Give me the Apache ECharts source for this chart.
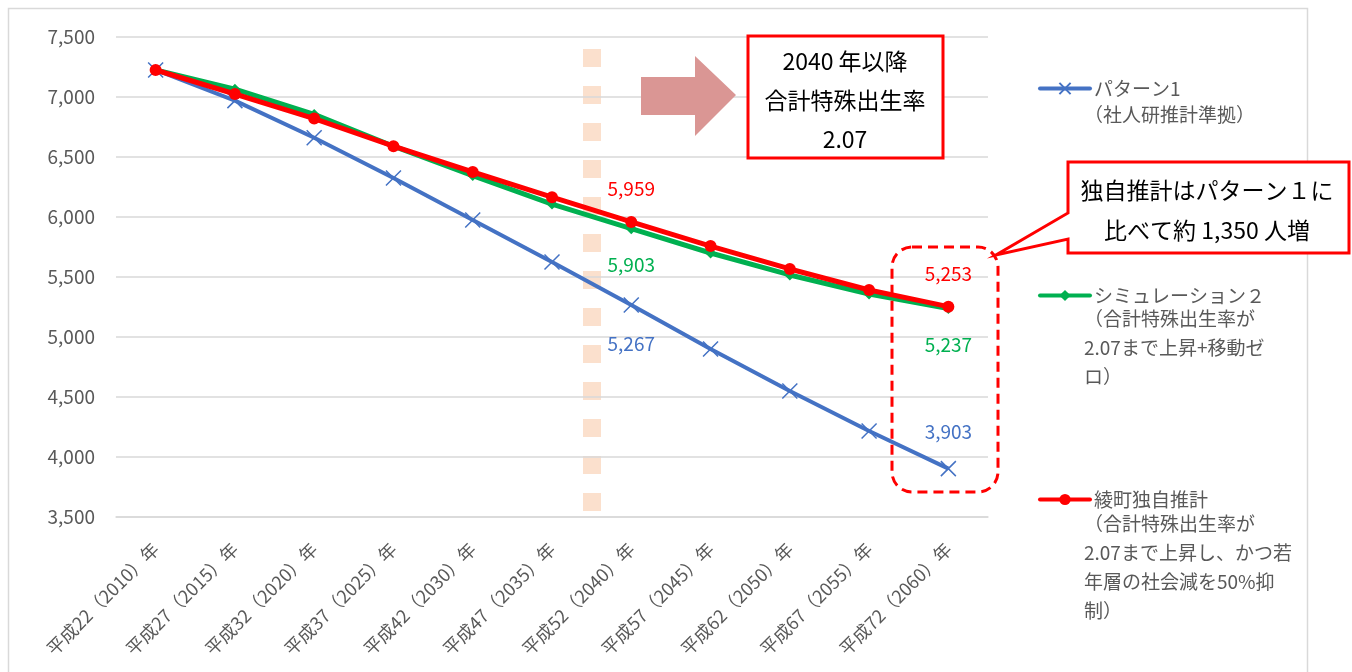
<!DOCTYPE html>
<html>
<head>
<meta charset="utf-8">
<script src="https://cdn.jsdelivr.net/npm/echarts@6/dist/echarts.min.js"></script>
<style>
  html,body{margin:0;padding:0;background:#fff;}
  #main{width:1352px;height:672px;}
</style>
</head>
<body>
<div id="main"></div>
<script>
// 横軸(年)
const years = ['平成22（2010）年','平成27（2015）年','平成32（2020）年','平成37（2025）年','平成42（2030）年',
  '平成47（2035）年','平成52（2040）年','平成57（2045）年','平成62（2050）年','平成67（2055）年','平成72（2060）年'];
// 系列の値(人)
const pattern1 = [7225, 6970, 6660, 6325, 5975, 5625, 5267, 4900, 4550, 4217, 3903];
const sim2     = [7225, 7065, 6855, 6590, 6345, 6108, 5903, 5700, 5517, 5358, 5237];
const dokuji   = [7225, 7025, 6820, 6590, 6375, 6165, 5959, 5758, 5567, 5392, 5253];
// 縦軸
const yTicks = [3500, 4000, 4500, 5000, 5500, 6000, 6500, 7000, 7500];
// 凡例
const names = ['パターン1', 'シミュレーション２', '綾町独自推計'];
const notes = [
  '（社人研推計準拠）',
  '（合計特殊出生率が\n2.07まで上昇+移動ゼ\nロ）',
  '（合計特殊出生率が\n2.07まで上昇し、かつ若\n年層の社会減を50%抑\n制）'
];

const FONT = '"Noto Sans CJK JP", "Noto Sans", sans-serif';
const GRAY = '#595959';
const BLUE = '#4472c4', GREEN = '#00b050', RED = '#ff0000';

let fmt = (v) => v.toLocaleString('en-US');

// ラベルを付ける点 (index: 位置, 距離)
function withLabels(values, color, conf) {
  return values.map((v, i) => {
    if (!conf[i]) return v;
    return {
      value: v,
      label: {
        show: true, position: conf[i][0], distance: conf[i][1],
        color: color, fontSize: 19, fontFamily: FONT,
        formatter: (p) => fmt(p.value)
      }
    };
  });
}

let myChart = echarts.init(document.getElementById('main'));

let legendOne = (name, top) => ({
  data: [name], left: 1033, top: top, orient: 'vertical',
  itemWidth: 50, itemHeight: 14, selectedMode: false,
  lineStyle: { width: 4, cap: 'round' },
  textStyle: { color: GRAY, fontSize: 19, fontFamily: FONT, padding: [0, 0, 0, -1] }
});

let option = {
  animation: false,
  backgroundColor: '#fff',
  grid: { left: 116, right: 364, top: 37, bottom: 155 },
  legend: [legendOne(names[0], 74), legendOne(names[1], 281), legendOne(names[2], 485)],
  xAxis: {
    type: 'category', data: years, boundaryGap: true,
    axisLine: { show: true, lineStyle: { color: '#d9d9d9', width: 1.5 } },
    axisTick: { show: false },
    axisLabel: { rotate: 45, margin: 29, color: GRAY, fontSize: 18, fontFamily: FONT, interval: 0 }
  },
  yAxis: {
    type: 'value', min: yTicks[0], max: yTicks[yTicks.length - 1], interval: 500,
    axisLine: { show: false }, axisTick: { show: false },
    splitLine: { lineStyle: { color: '#d9d9d9', width: 1.5 } },
    axisLabel: { margin: 21, color: GRAY, fontSize: 19, fontFamily: FONT, formatter: fmt }
  },
  series: [
    {
      name: names[0], type: 'line', z: 2,
      symbol: 'path://M0,0L10,10M10,0L0,10', symbolSize: 15,
      lineStyle: { color: BLUE, width: 4 },
      itemStyle: { color: 'rgba(0,0,0,0)', borderColor: BLUE, borderWidth: 1.5 },
      data: withLabels(pattern1, BLUE, { 6: ['bottom', 21], 10: ['top', 19] })
    },
    {
      name: names[1], type: 'line', z: 3,
      symbol: 'diamond', symbolSize: 11,
      lineStyle: { color: GREEN, width: 5 },
      itemStyle: { color: GREEN },
      data: withLabels(sim2, GREEN, { 6: ['bottom', 21], 10: ['bottom', 21] })
    },
    {
      name: names[2], type: 'line', z: 4,
      symbol: 'circle', symbolSize: 12,
      lineStyle: { color: RED, width: 5 },
      itemStyle: { color: RED },
      data: withLabels(dokuji, RED, { 6: ['top', 18], 10: ['top', 17] })
    }
  ],
  graphic: []
};

myChart.setOption(option);

// 2035年と2040年の間の目印(点線)
let xa = myChart.convertToPixel({ xAxisIndex: 0 }, years[5]);
let xb = myChart.convertToPixel({ xAxisIndex: 0 }, years[6]);
let xm = Math.round((xa + xb) / 2);

let g = [
  // 外枠
  { type: 'rect', z: -10, shape: { x: 8.5, y: 8.5, width: 1299, height: 700 },
    style: { fill: 'none', stroke: '#d9d9d9', lineWidth: 1.5 } },
  { type: 'line', z: 0, shape: { x1: xm, y1: 49, x2: xm, y2: 514 },
    style: { stroke: '#fbe0cd', lineWidth: 18, lineDash: [18, 19] } },
  // 矢印
  { type: 'polygon', z: 10,
    shape: { points: [[641, 77], [695, 77], [695, 56], [736, 95], [695, 136], [695, 115], [641, 115]] },
    style: { fill: '#da9694' } },
  // 2040年以降の囲み
  { type: 'rect', z: 10, shape: { x: 748, y: 36, width: 195, height: 122 },
    style: { fill: '#fff', stroke: RED, lineWidth: 3 } },
  { type: 'text', z: 11, x: 845, y: 100,
    style: { text: '2040 年以降\n合計特殊出生率\n2.07', fill: '#000', font: '23px ' + FONT,
      align: 'center', verticalAlign: 'middle', lineHeight: 39 } },
  // 赤点線の角丸
  { type: 'rect', z: 10, shape: { x: 892, y: 247, width: 106, height: 245, r: 20 },
    style: { fill: 'none', stroke: RED, lineWidth: 3, lineDash: [10, 6] } },
  // 吹き出し
  { type: 'polygon', z: 10,
    shape: { points: [[1068, 162], [1349, 162], [1349, 253], [1068, 253], [1068, 239], [996, 255], [1068, 213]] },
    style: { fill: '#fff', stroke: RED, lineWidth: 3 } },
  { type: 'text', z: 11, x: 1207, y: 210,
    style: { text: '独自推計はパターン１に\n比べて約 1,350 人増', fill: '#000', font: '23px ' + FONT,
      align: 'center', verticalAlign: 'middle', lineHeight: 40 } }
];
// 凡例の補足
[[115, notes[0]], [319, notes[1]], [524, notes[2]]].forEach(([y, t]) => {
  g.push({ type: 'text', z: 5, x: 1084, y: y - 15,
    style: { text: t, fill: GRAY, font: '19px ' + FONT, lineHeight: 29, verticalAlign: 'top' } });
});
myChart.setOption({ graphic: g });

window.addEventListener('resize', function () { myChart.resize(); });
</script>
</body>
</html>
